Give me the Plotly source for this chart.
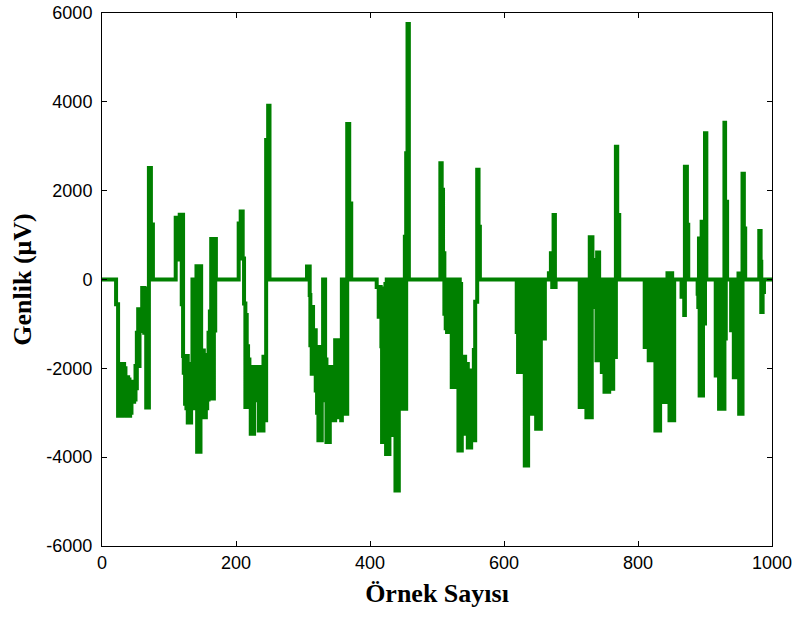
import plotly.graph_objects as go

# Signal bursts: (sample number, amplitude in microvolts); the trace is drawn as a step line.
burst_a = [(0, 0), (21, -560), (24, -3070), (25, -1900), (26, -3070), (27, -1900), (28, -3070),
           (29, -1950), (30, -3070), (31, -2500), (32, -1900), (33, -2500), (34, -2000), (35, -2600),
           (36, -2200), (37, -3070), (38, -2200), (39, -3070), (40, -2250), (41, -3070), (42, -2300),
           (43, -3000), (44, -2300), (45, -2750), (46, -2350), (47, -2750), (48, -2450), (49, -2700),
           (50, -1950), (51, -2450), (52, -1200), (53, -1950), (54, -670), (55, -1950), (56, -670),
           (57, -1160), (58, -700), (59, -1160), (60, -190), (61, -1160), (62, -190), (63, -1200),
           (64, -200), (65, -1200), (66, -2880), (67, -200), (68, -2880), (70, 2510), (73, 1240), (76, 0)]

burst_b = [(110, 1390), (114, 450), (115, 1390), (116, 1460), (118, 450), (119, -560), (120, 1460),
           (121, -1720), (122, -2100), (123, -1720), (124, -2800), (125, -1720), (126, -2900),
           (127, -1720), (128, -3220), (129, -1900), (130, -3220), (131, -2000), (132, -3220),
           (133, -2100), (134, -2900), (135, 0), (136, -2900), (137, 0), (138, -2800), (139, 0),
           (140, -2600), (141, 300), (142, -3880), (143, 300), (144, -3880), (145, 300), (146, -3880),
           (147, 300), (148, -3100), (149, -1800), (150, -3100), (151, -1600), (152, -3100),
           (153, -2000), (154, -3100), (155, -1700), (156, -2900), (157, -1700), (158, -2700),
           (159, -1200), (160, -2500), (161, -720), (162, -2680), (163, 910), (164, -2680), (165, 910),
           (166, -2680), (167, 910), (168, -1150), (169, 910), (170, 0)]

burst_c = [(204, 1260), (207, 1530), (210, 470), (212, -540), (214, -2870), (215, -800), (216, -2870),
           (217, -1500), (218, -2870), (219, -1800), (220, -2870), (221, -1970), (222, -3470),
           (223, -1970), (224, -3470), (225, -1970), (226, -3470), (227, -1970), (228, -2720),
           (229, -1970), (230, -2720), (231, -1970), (232, -2720), (233, -1970), (234, -3400),
           (235, -1970), (236, -3400), (237, -1970), (238, -3400), (239, -1970), (240, -3400),
           (241, -1740), (242, -3170), (243, -1740), (244, -3170), (245, 3140), (248, 3910), (250, 0)]

burst_d = [(306, 290), (310, -350), (311, -1480), (312, -620), (313, -2120), (314, -620), (315, -2120),
           (316, -1140), (317, -2000), (318, -1140), (319, -2500), (320, -1520), (321, -3000),
           (322, -1520), (323, -3620), (324, -1520), (325, -3620), (326, -1520), (327, -3620),
           (328, -1520), (329, -2720), (330, 0), (331, -2720), (332, 0), (333, -2720), (334, -1800),
           (335, -3660), (336, -1970), (337, -3660), (338, -1970), (339, -3660), (340, -1970),
           (341, -3170), (342, -1970), (343, -3170), (344, -1970), (345, -3170), (346, -1970),
           (347, -3170), (348, -1370), (349, -3100), (350, -1370), (351, -3100), (352, -1370),
           (353, -3100), (354, -1370), (355, -3100), (356, -2570), (357, -3170), (358, 0),
           (359, -3020), (360, 0), (361, -3020), (362, 0), (363, -3020), (364, 0), (365, -3020),
           (366, 3500), (369, 1710), (372, 0)]

burst_e = [(410, -170), (413, -840), (414, -170), (416, -840), (417, -1500), (418, -3660), (419, -600),
           (420, -3660), (421, -200), (422, -3660), (423, -100), (424, -3930), (425, 0), (426, -3930),
           (427, 0), (428, -3930), (429, -1500), (430, -3500), (431, 0), (432, -2580), (433, 0),
           (434, -3500), (435, 0), (436, -2600), (437, 0), (438, -4750), (439, -500), (440, -4750),
           (441, 0), (442, -4750), (443, 0), (444, -2600), (445, 0), (446, -2400), (447, -1200),
           (448, -2910), (449, 0), (450, -1530), (451, -2910), (452, 960), (453, -2910), (454, 2840),
           (456, 5750), (458, 0)]

burst_f = [(505, 2620), (507, 2020), (509, 590), (511, -770), (512, 0), (513, -1100), (514, 0),
           (515, -1180), (516, 0), (517, -1180), (518, 0), (519, -1180), (520, 0), (521, -1180),
           (522, -2420), (523, 0), (524, -2420), (525, 0), (526, -2420), (527, 0), (528, -2420),
           (529, -200), (530, -1800), (531, 0), (532, -3850), (533, 0), (534, -3850), (535, -100),
           (536, -3850), (537, -1740), (538, -3470), (539, -1740), (540, -3470), (541, -1740),
           (542, -3300), (543, -1900), (544, -3470), (545, -1900), (546, -3780), (547, -2050),
           (548, -3780), (549, -2050), (550, -3780), (551, -2050), (552, -3620), (553, -2050),
           (554, -3620), (555, -1590), (556, -3620), (557, -500), (560, 2470), (562, 1190), (564, 0)]

burst_g = [(619, -1180), (621, -2080), (622, 0), (623, -1930), (624, 0), (625, -2080), (626, 0),
           (627, -2080), (628, 0), (629, -2080), (630, 0), (631, -4190), (632, 0), (633, -4190),
           (634, 0), (635, -4190), (636, -100), (637, -3020), (638, 0), (639, -3020), (640, 0),
           (641, -3020), (642, 0), (643, -1500), (644, -3020), (645, 0), (646, -3000), (647, 0),
           (648, -3360), (649, 0), (650, -3360), (651, 0), (652, -3360), (653, 0), (654, -3360),
           (655, -100), (656, -1330), (657, 0), (658, -1330), (659, 0), (660, -1330), (661, 0),
           (667, 140), (670, 590), (672, -170), (674, 1450), (676, -170), (677, 0)]

burst_h = [(713, -2870), (714, 0), (715, -2870), (716, 0), (717, -2870), (718, 0), (719, -2870),
           (720, -1430), (721, -2870), (722, -100), (723, -3100), (724, 0), (725, -3100), (726, 0),
           (727, -3100), (728, 950), (730, -3100), (731, 950), (732, 440), (734, 0), (737, -620),
           (738, -1820), (739, 610), (740, -1820), (741, 610), (742, -1820), (743, -100), (744, -1820),
           (745, 0), (746, -2080), (747, 0), (748, -2080), (749, 0), (750, -2530), (751, 0),
           (752, -2530), (753, 0), (754, -2530), (755, 0), (756, -2530), (757, 0), (758, -2460),
           (759, 0), (760, -2460), (761, 0), (762, -2460), (763, -100), (764, -1745), (765, 0),
           (766, -1745), (767, 2990), (769, 1450), (772, 0)]

burst_i = [(810, -1520), (811, 0), (812, -1520), (813, 0), (814, -1520), (815, 0), (816, -1820),
           (817, 0), (818, -1820), (819, 0), (820, -1820), (821, 0), (822, -1820), (823, 0),
           (824, -1700), (825, 0), (826, -3400), (827, 0), (828, -3400), (829, 0), (830, -3400),
           (831, 0), (832, -3400), (833, -2350), (834, -100), (835, -2760), (836, 0), (837, -2760),
           (838, 0), (839, -2760), (840, 0), (841, -2760), (842, 0), (843, -2310), (844, 140),
           (845, -2310), (846, 140), (847, -3170), (848, 140), (849, -3170), (850, 140),
           (851, -3170), (852, 0), (853, -3170), (854, 0),
           (865, -390), (869, -800), (870, 2540), (873, 1230), (875, 0)]

burst_j = [(889, -320), (890, -620), (891, 925), (892, -2610), (893, 925), (894, -2610), (895, 1300),
           (896, -2610), (897, 1300), (898, -990), (900, 3290), (902, 0),
           (916, -2160), (917, 0), (918, -2160), (919, 0), (920, -2160), (921, -2910), (922, 0),
           (923, -2910), (924, 0), (925, -2910), (926, -2910), (927, 0), (928, -2910), (929, 3530),
           (930, -1330), (931, 1750), (933, 0),
           (939, -1140), (940, 0), (941, -1140), (942, 0), (943, -2200), (944, 0), (945, -2200),
           (946, 0), (947, -2200), (948, 0), (949, -2200), (950, 135), (951, -3020), (952, 135),
           (953, -3020), (954, 0), (955, -3020), (956, 2380), (958, 1150), (960, 0),
           (981, 1090), (983, 400), (984, -730), (986, -280), (988, 0), (1000, 0)]

x_ticks = [0, 200, 400, 600, 800, 1000]
x_tick_text = ["0", "200", "400", "600", "800", "1000"]
y_ticks = [-6000, -4000, -2000, 0, 2000, 4000, 6000]
y_tick_text = ["-6000", "-4000", "-2000", "0", "2000", "4000", "6000"]

points = burst_a + burst_b + burst_c + burst_d + burst_e + burst_f + burst_g + burst_h + burst_i + burst_j
ornek = [p[0] for p in points]
genlik = [p[1] for p in points]

tick_font = dict(family="Liberation Sans, Arial, sans-serif", size=18, color="black")
title_font = dict(family="Liberation Serif, Times New Roman, serif", size=26, color="black",
                  weight="bold")

fig = go.Figure(go.Scatter(
    x=ornek, y=genlik, mode="lines",
    line=dict(color="#008000", width=4, shape="hv", simplify=False),
    hoverinfo="skip", showlegend=False,
))

axis_common = dict(
    ticks="inside", ticklen=5, tickwidth=1, tickcolor="black",
    showline=True, linecolor="black", linewidth=1, mirror="ticks",
    showgrid=False, zeroline=False, tickfont=tick_font, tickmode="array",
    automargin=False, ticklabeloverflow="allow",
)

fig.update_layout(
    template="none",
    width=795, height=619,
    margin=dict(l=102, r=23, t=13, b=73),
    paper_bgcolor="white", plot_bgcolor="white",
    xaxis=dict(range=[0, 1000], tickvals=x_ticks, ticktext=x_tick_text,
               title=dict(text="Örnek Sayısı", font=title_font, standoff=12), **axis_common),
    yaxis=dict(range=[-6000, 6000], tickvals=y_ticks, ticktext=y_tick_text,
               ticklabelstandoff=5,
               title=dict(text="Genlik (μV)", font=title_font, standoff=7), **axis_common),
)

fig.write_html("out.html")
